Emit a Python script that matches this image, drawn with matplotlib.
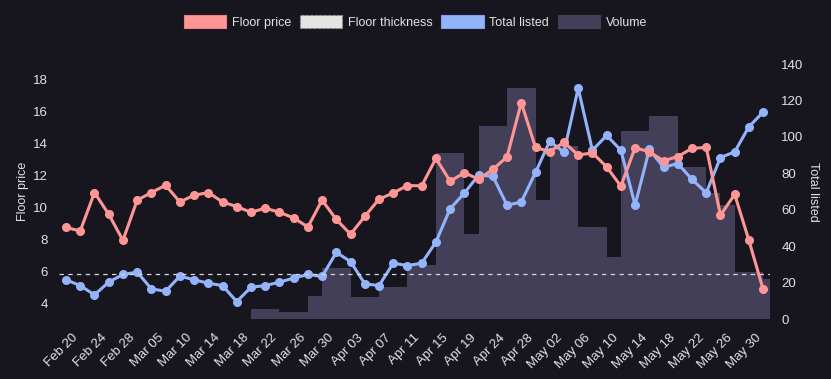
import matplotlib
matplotlib.use("Agg")
import matplotlib.pyplot as plt
from matplotlib.patches import Patch
from matplotlib.transforms import ScaledTranslation
import numpy as np

plt.rcParams['font.family'] = ['Liberation Sans', 'DejaVu Sans']

dates = ["Feb 20", "Feb 22", "Feb 24", "Feb 26", "Feb 28", "Mar 02", "Mar 05", "Mar 07",
         "Mar 10", "Mar 12", "Mar 14", "Mar 16", "Mar 18", "Mar 20", "Mar 22", "Mar 24",
         "Mar 26", "Mar 28", "Mar 30", "Apr 01", "Apr 03", "Apr 05", "Apr 07", "Apr 09",
         "Apr 11", "Apr 13", "Apr 15", "Apr 17", "Apr 19", "Apr 21", "Apr 24", "Apr 26",
         "Apr 28", "Apr 30", "May 02", "May 04", "May 06", "May 08", "May 10", "May 12",
         "May 14", "May 16", "May 18", "May 20", "May 22", "May 24", "May 26", "May 28",
         "May 30", "Jun 01"]

floor_price = [8.75, 8.53, 10.94, 9.58, 7.94, 10.46, 10.94, 11.40, 10.35, 10.77,
               10.94, 10.35, 10.06, 9.70, 9.96, 9.70, 9.35, 8.78, 10.46, 9.25,
               8.32, 9.45, 10.52, 10.92, 11.38, 11.36, 13.08, 11.65, 12.18, 11.78,
               12.39, 13.18, 16.58, 13.77, 13.50, 14.10, 13.29, 13.43, 12.55, 11.34,
               13.75, 13.50, 12.93, 13.20, 13.71, 13.77, 9.52, 10.82, 7.94, 4.86]

total_listed = [21.6, 18.4, 13.3, 20.3, 24.5, 25.8, 16.6, 15.3, 23.6, 21.6,
                19.7, 18.4, 9.6, 17.5, 18.4, 20.3, 22.5, 24.5, 23.4, 36.6,
                31.6, 19.4, 18.4, 30.7, 29.4, 30.7, 42.3, 60.6, 69.2, 79.0,
                78.4, 62.5, 64.3, 80.5, 97.7, 91.5, 126.7, 92.7, 100.8, 92.7,
                62.6, 93.1, 83.3, 85.4, 76.7, 69.3, 88.7, 91.8, 105.6, 113.6]

floor_thickness = 5.85

# volume: each bar spans category positions [vol_start, vol_end)
vol_start = [13, 15, 17, 18, 20, 22, 24, 26, 28, 29, 31, 33, 34, 36, 38, 39, 41, 43, 45, 46, 47, 49]
vol_end   = [15, 17, 18, 20, 22, 24, 26, 28, 29, 31, 33, 34, 36, 38, 39, 41, 43, 45, 46, 47, 49, 50]
volume    = [5.3, 4.0, 12.5, 27.9, 12.3, 17.4, 29.7, 91.2, 46.6, 106.2, 127.0, 65.5,
             94.8, 50.8, 34.0, 103.0, 111.3, 83.7, 69.2, 62.7, 26.0, 21.8]

BG = '#17161e'
RED = '#ff9696'
BLUE = '#93b3fa'
VOL = '#433f59'
TXT = '#e2e2e2'

fig = plt.figure(figsize=(8.31, 3.79), dpi=100, facecolor=BG)
ax3 = fig.add_axes([0.0709, 0.158, 0.856, 0.673])
ax2 = ax3.twinx()
ax = ax3.twinx()

for a in (ax, ax2, ax3):
    a.patch.set_visible(False)
    for s in a.spines.values():
        s.set_visible(False)
ax3.set_zorder(1)
ax2.set_zorder(2)
ax.set_zorder(3)

x = np.arange(len(dates))
vs = np.array(vol_start)
ve = np.array(vol_end)
ax3.bar(vs, volume, width=ve - vs, align='edge', color=VOL, linewidth=0)
ax3.set_ylim(0, 140)
ax3.set_xlim(-0.5, len(dates) - 0.5)
ax3.yaxis.set_visible(False)

ax2.plot(x, total_listed, color=BLUE, lw=2.2, marker='o', ms=5.5, zorder=3)
ax2.set_ylim(0, 140)
ax2.set_yticks(np.arange(0, 141, 20))
ax2.set_ylabel("Total listed", color=TXT, fontsize=9, rotation=-90, labelpad=11)

ax.axhline(floor_thickness, color='#d8d8d8', lw=0.9, ls=(0, (3.5, 3.5)), zorder=2)
ax.plot(x, floor_price, color=RED, lw=2.2, marker='o', ms=5.5, zorder=4)
ax.set_ylim(3, 19)
ax.set_yticks(np.arange(4, 19, 2))
ax.yaxis.set_label_position('left')
ax.yaxis.tick_left()
ax.set_ylabel("Floor price", color=TXT, fontsize=9, labelpad=3)

for a in (ax, ax2):
    a.tick_params(axis='y', length=0, colors=TXT, labelsize=9.5, pad=8)

ax3.set_xticks(x[::2])
ax3.set_xticklabels(dates[::2], rotation=45, ha='right', rotation_mode='anchor')
ax3.tick_params(axis='x', length=0, colors=TXT, labelsize=9.5, pad=9)
for lab in ax3.get_xticklabels():
    lab.set_transform(lab.get_transform() + ScaledTranslation(6 / 100, 0, fig.dpi_scale_trans))

handles = [
    Patch(facecolor=RED, edgecolor='#f28080', lw=0.8),
    Patch(facecolor='#e4e4e4', edgecolor='#9a9a9a', lw=0.8, ls=(0, (2, 2))),
    Patch(facecolor=BLUE, edgecolor='#7fa0ea', lw=0.8),
    Patch(facecolor=VOL, edgecolor=VOL, lw=0.8),
]
labels = ["Floor price", "Floor thickness", "Total listed", "Volume"]
leg = fig.legend(handles, labels, loc='center', bbox_to_anchor=(0.5, 1 - 22 / 379), ncol=4,
                 frameon=False, fontsize=9, handlelength=3.4, handleheight=1.15,
                 handletextpad=0.45, columnspacing=0.7, labelcolor=TXT)

fig.savefig("out.png", dpi=100, facecolor=BG)
